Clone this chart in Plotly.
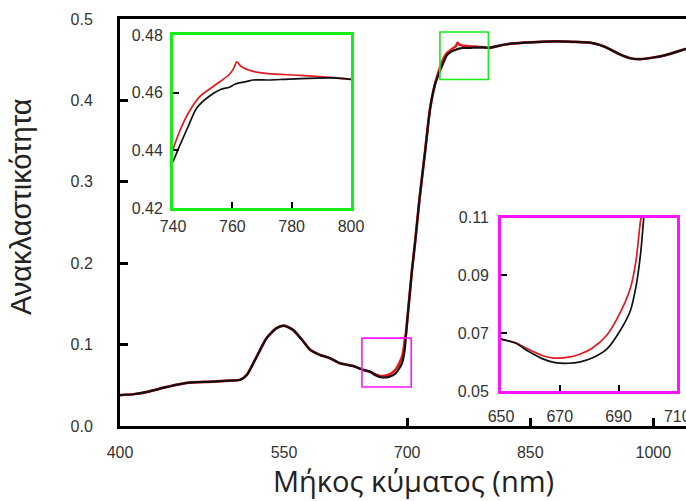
import plotly.graph_objects as go

# ---- reflectance spectra (wavelength in nm, reflectance as fraction) ----
# Visible range: both curves coincide
VIS_WL = [400, 412, 425, 443, 461, 485, 500, 510, 516, 525, 534, 543, 550,
          561, 572, 582, 594, 606, 618, 634, 645]
VIS_R = [0.038, 0.039, 0.042, 0.048, 0.053, 0.0545, 0.0557, 0.0568, 0.0627,
         0.0852, 0.1078, 0.1201, 0.1234, 0.118, 0.1058, 0.0935, 0.0873,
         0.0833, 0.0771, 0.0738, 0.0695]

# Chlorophyll absorption well (650-700 nm)
DIP_WL = [650, 655, 659, 664, 668, 673, 677, 681, 686, 690, 694, 696, 697.5, 698.5]
DIP_R_BLACK = [0.068, 0.0665, 0.0639, 0.0612, 0.0599, 0.0596, 0.0601, 0.0614,
               0.0645, 0.070, 0.0777, 0.0865, 0.0975, 0.109]
DIP_R_RED = [0.068, 0.0667, 0.0646, 0.0623, 0.0614, 0.0617, 0.0628, 0.0648,
             0.0693, 0.0760, 0.0855, 0.0955, 0.1090, 0.1135]

# Red edge: both curves coincide
EDGE_WL = [700, 703, 706, 710, 715, 722, 728, 734]
EDGE_R = [0.128, 0.160, 0.192, 0.228, 0.278, 0.338, 0.390, 0.420]

# NIR shoulder (740-800 nm)
SH_WL_BLACK = [740, 742, 745, 748, 752, 756, 759, 761, 765, 767, 772, 777, 783, 794, 800]
SH_R_BLACK = [0.436, 0.441, 0.448, 0.4547, 0.4586, 0.4611, 0.4619, 0.463,
              0.4639, 0.4644, 0.4644, 0.4646, 0.4649, 0.4651, 0.4646]
SH_WL_RED = [740, 742, 745, 749, 754, 759, 760.5, 761.5, 763, 767, 772, 783, 794, 800]
SH_R_RED = [0.4403, 0.446, 0.4526, 0.4586, 0.4625, 0.4663, 0.4685, 0.4707,
            0.4691, 0.4674, 0.4666, 0.466, 0.4652, 0.4646]

# NIR plateau: both curves coincide
NIR_WL = [821, 842, 862, 882, 902, 923, 935, 947, 959, 972, 984, 1000, 1016, 1032, 1041]
NIR_R = [0.469, 0.471, 0.472, 0.4725, 0.472, 0.471, 0.468, 0.4629, 0.4567,
         0.4518, 0.4506, 0.4527, 0.456, 0.4609, 0.4637]

Y_TICKS = [0.0, 0.1, 0.2, 0.3, 0.4, 0.5]
X_TICKS_LEFT = [400]
X_TICKS_RIGHT = [550, 700, 850, 1000]
INSET1_X = [740, 760, 780, 800]
INSET1_Y = [0.42, 0.44, 0.46, 0.48]
INSET2_X = [650, 670, 690, 710]
INSET2_Y = [0.05, 0.07, 0.09, 0.11]

X_TITLE = "Μήκος κύματος (nm)"
Y_TITLE = "Ανακλαστικότητα"

wl_black = VIS_WL + DIP_WL + EDGE_WL + SH_WL_BLACK + NIR_WL
r_black = VIS_R + DIP_R_BLACK + EDGE_R + SH_R_BLACK + NIR_R
wl_red = VIS_WL + DIP_WL + EDGE_WL + SH_WL_RED + NIR_WL
r_red = VIS_R + DIP_R_RED + EDGE_R + SH_R_RED + NIR_R

RED = "#e3191c"
BLACK = "#111111"
GREEN = "#16ee16"
MAGENTA = "#ff14ff"
TICK_FONT = dict(family="Liberation Sans, Arial, sans-serif", size=16, color="#333333")

W, H = 686, 501
ML, MR, MT, MB = 120, 0, 19, 75
PW = W - ML - MR
PH = H - MT - MB


def px_x(p):
    return (p - ML) / PW


def px_y(p):
    return (H - MB - p) / PH


SPLIT = px_x(284)

fig = go.Figure()

# main panel: the wavelength axis is drawn in two linear pieces (400-550, 550-end)
for xs, ys, color, width in [(wl_red, r_red, RED, 2.7), (wl_black, r_black, BLACK, 2.2)]:
    left = [(x, y) for x, y in zip(xs, ys) if x <= 561]
    right = [(x, y) for x, y in zip(xs, ys) if x >= 543]
    for pts, xa in [(left, "x"), (right, "x2")]:
        fig.add_trace(go.Scatter(
            x=[p[0] for p in pts], y=[p[1] for p in pts], mode="lines",
            line=dict(color=color, width=width, shape="spline", smoothing=0.6),
            xaxis=xa, yaxis="y", showlegend=False, hoverinfo="skip"))

# insets
for xs, ys, color in [(wl_red, r_red, RED), (wl_black, r_black, BLACK)]:
    for xa, ya, lo, hi in [("x3", "y3", 736, 804), ("x4", "y4", 645, 712)]:
        pts = [(x, y) for x, y in zip(xs, ys) if lo <= x <= hi]
        fig.add_trace(go.Scatter(
            x=[p[0] for p in pts], y=[p[1] for p in pts], mode="lines",
            line=dict(color=color, width=1.7, shape="spline", smoothing=0.8),
            xaxis=xa, yaxis=ya, showlegend=False, hoverinfo="skip"))

main_axis = dict(showline=True, linecolor="black", linewidth=3, ticks="inside",
                 ticklen=8, tickwidth=3, tickcolor="black", showgrid=False,
                 zeroline=False, tickfont=TICK_FONT, ticklabeloverflow="allow")
inset_axis = dict(showline=True, linewidth=3, mirror=True, ticks="inside",
                  ticklen=6, tickwidth=2, tickcolor="black", showgrid=False,
                  zeroline=False, tickfont=TICK_FONT, ticklabeloverflow="allow")

fig.update_layout(
    width=W, height=H, margin=dict(l=ML, r=MR, t=MT, b=MB, pad=0),
    paper_bgcolor="white", plot_bgcolor="rgba(0,0,0,0)", template="none",
    xaxis=dict(domain=[0, SPLIT], range=[400, 550], anchor="y", mirror=True,
               tickvals=X_TICKS_LEFT, ticklabelstandoff=10, **main_axis),
    xaxis2=dict(domain=[SPLIT, 1], range=[550, 1039.8], anchor="y", mirror=True,
                tickvals=X_TICKS_RIGHT, ticklabelstandoff=10, **main_axis),
    yaxis=dict(domain=[0, 1], range=[0, 0.5], anchor="x", mirror=False,
               tickvals=Y_TICKS, tickformat=".1f", ticklabelstandoff=21, **main_axis),
    xaxis3=dict(domain=[px_x(173), px_x(351)], range=[740, 800], anchor="y3",
                linecolor=GREEN, tickvals=INSET1_X, ticklabelstandoff=2, **inset_axis),
    yaxis3=dict(domain=[px_y(208), px_y(35)], range=[0.42, 0.48], anchor="x3",
                linecolor=GREEN, tickvals=INSET1_Y, tickformat=".2f",
                ticklabelstandoff=4, **inset_axis),
    xaxis4=dict(domain=[px_x(501), px_x(677.3)], range=[650, 710], anchor="y4",
                linecolor=MAGENTA, tickvals=INSET2_X, ticklabelstandoff=9, **inset_axis),
    yaxis4=dict(domain=[px_y(391), px_y(217.7)], range=[0.05, 0.11], anchor="x4",
                linecolor=MAGENTA, tickvals=INSET2_Y, tickformat=".2f",
                ticklabelstandoff=6, **inset_axis),
)

# zoom windows marked on the main spectrum
fig.add_shape(type="rect", xref="x2", yref="y", x0=740, x1=799, y0=0.4256, y1=0.484,
              line=dict(color=GREEN, width=1.6))
fig.add_shape(type="rect", xref="x2", yref="y", x0=645, x1=705, y0=0.048, y1=0.108,
              line=dict(color=MAGENTA, width=1.6))

fig.add_annotation(text=X_TITLE, xref="paper", yref="paper", x=px_x(413), y=px_y(480),
                   xanchor="center", yanchor="middle", showarrow=False, borderpad=0,
                   font=dict(family="Open Sans, sans-serif", size=29, color="#222222"))
fig.add_annotation(text=Y_TITLE, xref="paper", yref="paper", x=px_x(20.5), y=px_y(207.5),
                   xanchor="center", yanchor="middle", showarrow=False, textangle=-90,
                   font=dict(family="Liberation Sans, Arial, sans-serif", size=29,
                             color="#222222"))

fig.write_html("out.html")
